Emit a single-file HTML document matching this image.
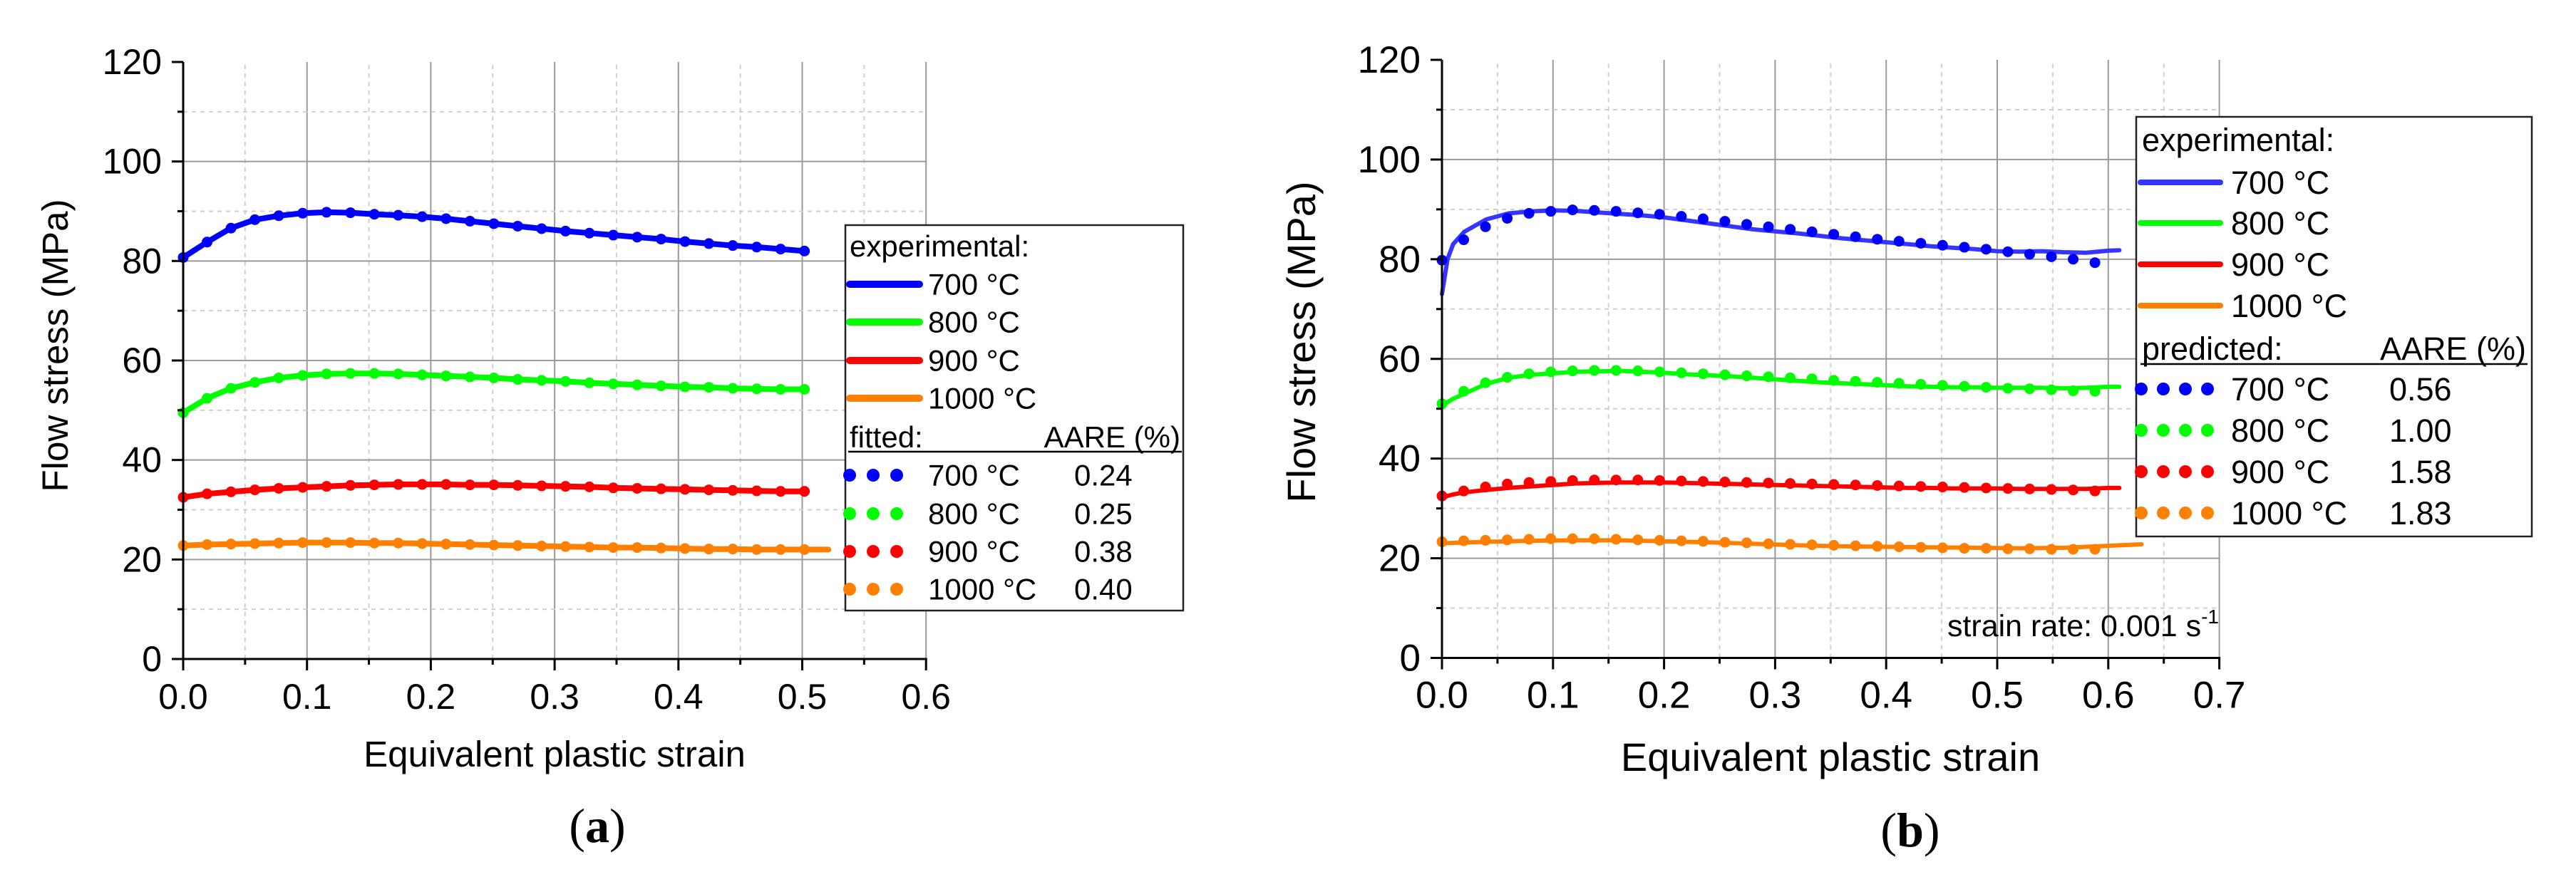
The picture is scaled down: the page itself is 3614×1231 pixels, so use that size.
<!DOCTYPE html>
<html><head><meta charset="utf-8"><title>Flow stress curves</title>
<style>
html,body{margin:0;padding:0;background:#fff;}
svg{display:block;}
text{font-family:"Liberation Sans",Arial,sans-serif;fill:#000;}
</style></head>
<body>
<svg id="fig" width="3614" height="1231" viewBox="0 0 3614 1231" xmlns="http://www.w3.org/2000/svg">
<rect width="3614" height="1231" fill="#fff"/>
</svg>
<script>
// ---------- data: panel (a) ----------
const aStep = 0.0193;
const aBlue   = [80.7,83.8,86.6,88.3,89.1,89.6,89.8,89.7,89.4,89.2,88.9,88.5,88.0,87.5,87.0,86.5,86.0,85.6,85.2,84.8,84.4,83.9,83.5,83.1,82.8,82.4,82.0];
const aGreen  = [49.5,52.4,54.4,55.6,56.5,57.0,57.3,57.4,57.4,57.3,57.1,56.9,56.7,56.5,56.2,56.0,55.8,55.5,55.3,55.1,54.9,54.7,54.6,54.4,54.3,54.2,54.2];
const aRed    = [32.5,33.2,33.6,34.0,34.3,34.5,34.7,34.9,35.0,35.1,35.1,35.1,35.0,35.0,34.9,34.8,34.7,34.6,34.4,34.3,34.2,34.1,34.0,33.9,33.8,33.7,33.7];
const aOrange = [22.8,23.0,23.1,23.2,23.3,23.4,23.4,23.4,23.3,23.3,23.2,23.1,23.0,22.9,22.8,22.7,22.6,22.5,22.4,22.4,22.3,22.2,22.1,22.1,22.0,22.0,22.0,22.0];
const aAARE = ["0.24","0.25","0.38","0.40"];

// ---------- data: panel (b) ----------
const bLineStrain = [0,0.005,0.01,0.02,0.04,0.06,0.08,0.1,0.12,0.14,0.16,0.18,0.2,0.22,0.24,0.26,0.28,0.3,0.32,0.34,0.36,0.38,0.4,0.42,0.44,0.46,0.48,0.5,0.52,0.54,0.56,0.58,0.6,0.61];
const bBlueExp   = [73.0,80.0,83.0,85.5,88.0,89.2,89.6,89.8,89.7,89.4,89.1,88.8,88.4,87.8,87.2,86.6,86.0,85.6,85.2,84.7,84.2,83.8,83.4,83.0,82.6,82.3,82.0,81.6,81.5,81.6,81.4,81.3,81.7,81.8];
const bGreenExp  = [50.5,51.3,52.0,53.0,55.0,56.2,56.8,57.1,57.4,57.5,57.6,57.4,57.2,56.9,56.7,56.5,56.2,55.9,55.6,55.3,55.1,54.9,54.7,54.5,54.4,54.3,54.3,54.2,54.2,54.2,54.1,54.2,54.4,54.4];
const bRedExp    = [32.0,32.5,32.8,33.2,33.7,34.1,34.4,34.7,35.0,35.1,35.2,35.2,35.2,35.1,35.0,34.9,34.8,34.7,34.6,34.5,34.4,34.3,34.2,34.1,34.1,34.0,34.0,34.0,33.9,33.9,33.9,33.9,34.1,34.1];
const bOrangeStrain = [0,0.04,0.08,0.12,0.16,0.2,0.24,0.28,0.32,0.36,0.4,0.44,0.48,0.52,0.56,0.6,0.63];
const bOrangeExp = [23.0,23.3,23.5,23.6,23.6,23.4,23.2,22.9,22.6,22.4,22.3,22.2,22.1,22.0,22.1,22.5,22.8];
const bStep = 0.0196;
const bBluePred   = [79.8,83.9,86.5,88.2,89.2,89.6,89.9,89.8,89.6,89.3,89.0,88.6,88.1,87.6,87.0,86.5,86.0,85.5,85.0,84.5,84.0,83.6,83.2,82.8,82.4,82.0,81.5,81.0,80.5,80.0,79.3];
const bGreenPred  = [51.0,53.5,55.2,56.3,57.0,57.4,57.6,57.7,57.7,57.6,57.4,57.2,57.0,56.8,56.6,56.4,56.2,56.0,55.7,55.5,55.3,55.1,54.9,54.7,54.5,54.3,54.1,54.0,53.8,53.6,53.5];
const bRedPred    = [32.5,33.5,34.3,34.9,35.2,35.4,35.6,35.7,35.7,35.7,35.6,35.5,35.4,35.3,35.2,35.1,35.0,34.9,34.8,34.7,34.6,34.5,34.4,34.3,34.2,34.1,34.0,33.9,33.8,33.7,33.5];
const bOrangePred = [23.3,23.5,23.6,23.7,23.8,23.9,23.9,23.9,23.8,23.7,23.6,23.5,23.4,23.2,23.1,22.9,22.8,22.7,22.6,22.5,22.4,22.3,22.2,22.1,22.0,22.0,21.9,21.9,21.8,21.8,21.8];
const bAARE = ["0.56","1.00","1.58","1.83"];

const xTickA = ["0.0","0.1","0.2","0.3","0.4","0.5","0.6"];
const xTickB = ["0.0","0.1","0.2","0.3","0.4","0.5","0.6","0.7"];
const yTicks = ["0","20","40","60","80","100","120"];
const tempLabels = ["700 °C","800 °C","900 °C","1000 °C"];

const NS="http://www.w3.org/2000/svg";
const svg=document.getElementById('fig');
function el(tag,attrs,parent){const e=document.createElementNS(NS,tag);for(const k in attrs)e.setAttribute(k,attrs[k]);(parent||svg).appendChild(e);return e;}
function txt(x,y,s,size,anchor,parent,extra){const t=el('text',Object.assign({x:x,y:y,'font-size':size,'text-anchor':anchor||'start'},extra||{}),parent);t.textContent=s;return t;}

function panel(cfg){
  const g=el('g',{});
  
  
  const X=v=>cfg.x0+v*cfg.xs, Y=v=>cfg.y0-v*cfg.ys;
  const xmax=cfg.xmax;
  const grid=el('g',{},g);
  
  
  for(let i=1;i<=xmax*20+0.001;i++){const v=i*0.05;const major=i%2===0;
    el('line',{x1:X(v),x2:X(v),y1:Y(0),y2:Y(120),stroke:major?'#9a9a9a':'#cfcfcf','stroke-width':2,'stroke-dasharray':major?'none':'6 6'},grid);}
  for(let i=1;i<12;i++){const v=i*10;const major=i%2===0;
    el('line',{x1:X(0),x2:X(xmax),y1:Y(v),y2:Y(v),stroke:major?'#9a9a9a':'#cfcfcf','stroke-width':2,'stroke-dasharray':major?'none':'6 6'},grid);}
  cfg.series.forEach((s,si)=>{
    const pts=s.lx.map((xv,i)=>X(xv).toFixed(1)+','+Y(s.ly[i]).toFixed(1)).join(' ');
    const pl=el('polyline',{points:pts,fill:'none',stroke:s.lineColor,'stroke-width':cfg.lw,'stroke-linejoin':'round','stroke-linecap':'round'},g);
    
    
    s.dv.forEach((v,i)=>{
      const c=el('circle',{cx:X(i*cfg.step),cy:Y(v),r:cfg.dr,fill:s.dotColor},g);
      
      
    });
  });
  const ax=el('g',{},g);
  
  
  el('line',{x1:X(0),x2:X(0),y1:Y(0)+1.5,y2:Y(120),stroke:'#000','stroke-width':3},ax);
  el('line',{x1:X(0)-1.5,x2:X(xmax)+1.5,y1:Y(0),y2:Y(0),stroke:'#000','stroke-width':3},ax);
  for(let i=0;i<=xmax*20+0.001;i++){const v=i*0.05;const major=i%2===0;
    el('line',{x1:X(v),x2:X(v),y1:Y(0),y2:Y(0)+(major?16:8),stroke:'#000','stroke-width':3},ax);}
  for(let i=0;i<=12;i++){const v=i*10;const major=i%2===0;
    el('line',{x1:X(0),x2:X(0)-(major?16:8),y1:Y(v),y2:Y(v),stroke:'#000','stroke-width':3},ax);}
  cfg.xticks.forEach((s,i)=>{const t=txt(X(i*0.1),cfg.y0+70,s,cfg.tf,'middle',ax);
    });
  yTicks.forEach((s,i)=>{const t=txt(cfg.x0-30,Y(i*20)+cfg.tf*0.34,s,cfg.tf,'end',ax);
    });
  const xt=txt(cfg.xtX,cfg.xtY,'Equivalent plastic strain',cfg.titleF,'middle',g);
  
  const yt=txt(0,0,'Flow stress (MPa)',cfg.titleF,'middle',g,{transform:'translate('+cfg.ytX+','+cfg.ytY+') rotate(-90)'});
  
  const lab=el('text',{x:cfg.labX,y:cfg.labY,'font-size':68,'text-anchor':'middle',style:'font-family:"Liberation Serif",serif'},g);
  lab.appendChild(document.createTextNode('('));
  const b=el('tspan',{'font-weight':'bold'},lab);b.textContent=cfg.letter;
  lab.appendChild(document.createTextNode(')'));
  
  const L=cfg.leg;
  const lg=el('g',{},g);
  
  
  el('rect',{x:L.x,y:L.y,width:L.w,height:L.h,fill:'#fff',stroke:'#222','stroke-width':2.5},lg);
  txt(L.tx0,L.expY,'experimental:',L.f,'start',lg);
  cfg.series.forEach((s,i)=>{
    const yy=L.rows[i];
    el('line',{x1:L.lx1,x2:L.lx2,y1:yy,y2:yy,stroke:s.lineColor,'stroke-width':L.lw,'stroke-linecap':'round'},lg);
    const t=txt(L.tx,yy+L.f*0.35,tempLabels[i],L.f,'start',lg);
    
  });
  txt(L.tx0,L.fitY,L.fitLabel,L.f,'start',lg);
  txt(L.aareR,L.fitY,'AARE (%)',L.f,'end',lg);
  el('line',{x1:L.tx0-2,x2:L.aareR+2,y1:L.uY,y2:L.uY,stroke:'#000','stroke-width':2.5},lg);
  cfg.series.forEach((s,i)=>{
    const yy=L.drows[i];
    L.dx.forEach(dx=>el('circle',{cx:dx,cy:yy,r:9,fill:s.dotColor},lg));
    const t=txt(L.tx,yy+L.f*0.35,tempLabels[i],L.f,'start',lg);
    
    const v=txt(L.vx,yy+L.f*0.35,cfg.aare[i],L.f,'start',lg);
    
  });
  return g;
}

const aStrain=aBlue.map((_,i)=>i*aStep);
const aOrStrain=aOrange.map((_,i)=>i*aStep);
panel({name:'panel-a',letter:'a',x0:257,y0:925,xs:1737,ys:838/120,xmax:0.6,step:aStep,lw:8,dr:7.5,tf:50,titleF:51,
  xticks:xTickA,xtX:778,xtY:1076,ytX:95,ytY:485,labX:838,labY:1182,aare:aAARE,
  series:[
    {key:'700',lineColor:'#0000ff',dotColor:'#0000ff',lx:aStrain,ly:aBlue,dv:aBlue},
    {key:'800',lineColor:'#00ff00',dotColor:'#00ff00',lx:aStrain,ly:aGreen,dv:aGreen},
    {key:'900',lineColor:'#ff0000',dotColor:'#ff0000',lx:aStrain,ly:aRed,dv:aRed},
    {key:'1000',lineColor:'#ff8000',dotColor:'#ff8000',lx:aOrStrain,ly:aOrange,dv:aOrange.slice(0,27)}],
  leg:{x:1186,y:316,w:474,h:541,f:42,tx0:1192,expY:360,tx:1302,lx1:1192,lx2:1290,lw:10,rows:[399,452,506,559],
    fitLabel:'fitted:',fitY:628,aareR:1656,uY:634,drows:[667,721,774,827],dx:[1192,1225,1258],vx:1507}
});
panel({name:'panel-b',letter:'b',x0:2023,y0:923.5,xs:1558,ys:839.5/120,xmax:0.7,step:bStep,lw:6,dr:7.5,tf:53,titleF:56,
  xticks:xTickB,xtX:2568,xtY:1082,ytX:1845,ytY:480,labX:2680,labY:1188,aare:bAARE,
  series:[
    {key:'700',lineColor:'#3535ff',dotColor:'#0000ff',lx:bLineStrain,ly:bBlueExp,dv:bBluePred},
    {key:'800',lineColor:'#00ff00',dotColor:'#00ff00',lx:bLineStrain,ly:bGreenExp,dv:bGreenPred},
    {key:'900',lineColor:'#ff0000',dotColor:'#ff0000',lx:bLineStrain,ly:bRedExp,dv:bRedPred},
    {key:'1000',lineColor:'#ff8000',dotColor:'#ff8000',lx:bOrangeStrain,ly:bOrangeExp,dv:bOrangePred}],
  leg:{x:2997,y:164,w:555,h:589,f:45,tx0:3005,expY:212,tx:3130,lx1:3003,lx2:3115,lw:8,rows:[256,313,371,429],
    fitLabel:'predicted:',fitY:505,aareR:3544,uY:511,drows:[546,604,662,720],dx:[3004,3035,3066,3097],vx:3352}
});
const sr=el('text',{x:3113,y:893,'font-size':43,'text-anchor':'end'});


sr.appendChild(document.createTextNode('strain rate: 0.001 s'));
const sup=el('tspan',{'font-size':28,dy:-18},sr);sup.textContent='-1';
</script>
</body></html>
